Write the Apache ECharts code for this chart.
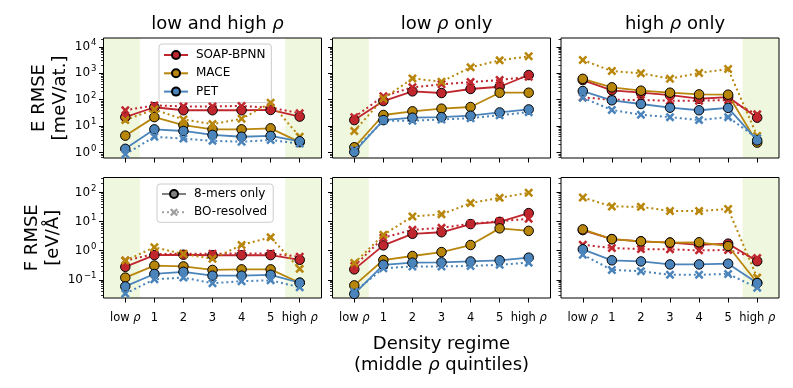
<!DOCTYPE html>
<html><head><meta charset="utf-8">
<script src="https://cdn.jsdelivr.net/npm/echarts@6/dist/echarts.min.js"></script>
<style>html,body{margin:0;padding:0;background:#fff}#c{width:793px;height:388px}</style>
</head><body><div id="c"></div>
<script>
// ---------------- data ----------------
const categories = ['low ρ', '1', '2', '3', '4', '5', 'high ρ'];
const panelTitles = ['low and high ρ', 'low ρ only', 'high ρ only'];
const models = ['SOAP-BPNN', 'MACE', 'PET'];
const styleNames = ['8-mers only', 'BO-resolved'];
const eTickValues = [1, 10, 100, 1000, 10000];
const fTickValues = [0.1, 1, 10, 100];
// shaded (training) regimes, in category units
const shadeLowHigh = [[-0.75, 0.5], [5.5, 6.75]];
const shadeLowOnly = [[-0.75, 0.5]];
const shadeHighOnly = [[5.5, 6.75]];

// E RMSE [meV/at.] — low and high rho
const eBothSoap8 = [22, 52, 40, 40, 40, 41, 23];
const eBothSoapBO = [40, 61, 56, 56, 58, 50, 31];
const eBothMace8 = [4.4, 22, 11, 7.6, 7.6, 8.3, 2.5];
const eBothMaceBO = [17, 43, 18, 12, 19, 77, 4.0];
const eBothPet8 = [1.4, 7.6, 6.6, 4.7, 4.0, 4.3, 2.7];
const eBothPetBO = [0.87, 4.0, 3.4, 2.8, 2.6, 3.0, 2.2];
// E RMSE — low rho only
const eLowSoap8 = [17, 89, 207, 179, 254, 309, 855];
const eLowSoapBO = [22, 135, 294, 382, 465, 553, 738];
const eLowMace8 = [1.6, 26.5, 36.5, 46, 53, 184, 184];
const eLowMaceBO = [6.6, 110, 637, 478, 1670, 3070, 4350];
const eLowPet8 = [1.06, 17, 21, 22, 25, 33, 43];
const eLowPetBO = [1.26, 16, 16, 18, 20, 26, 34];
// E RMSE — high rho only
const eHighSoap8 = [553, 227, 184, 150, 109, 126, 21];
const eHighSoapBO = [123, 100, 97, 92, 92, 97, 28];
const eHighMace8 = [615, 294, 219, 184, 159, 155, 2.4];
const eHighMaceBO = [3150, 1210, 991, 622, 1019, 1440, 4.3];
const eHighPet8 = [213, 95, 69, 50, 40, 49, 2.9];
const eHighPetBO = [119, 41, 27, 22, 17, 22, 3.5];

// F RMSE [eV/Å] — low and high rho
const fBothSoap8 = [0.28, 0.71, 0.73, 0.70, 0.70, 0.71, 0.49];
const fBothSoapBO = [0.46, 0.77, 0.79, 0.79, 0.81, 0.81, 0.62];
const fBothMace8 = [0.12, 0.31, 0.29, 0.22, 0.23, 0.23, 0.080];
const fBothMaceBO = [0.46, 1.31, 0.77, 0.53, 1.57, 2.88, 0.24];
const fBothPet8 = [0.060, 0.16, 0.19, 0.14, 0.14, 0.15, 0.080];
const fBothPetBO = [0.034, 0.105, 0.12, 0.077, 0.090, 0.097, 0.056];
// F RMSE — low rho only
const fLowSoap8 = [0.23, 1.53, 3.8, 4.3, 8.2, 9.8, 19.5];
const fLowSoapBO = [0.30, 2.8, 5.2, 6.1, 8.4, 10.2, 12.5];
const fLowMace8 = [0.065, 0.48, 0.66, 0.90, 1.57, 5.85, 4.8];
const fLowMaceBO = [0.38, 3.5, 15, 17.7, 43, 65, 97];
const fLowPet8 = [0.033, 0.33, 0.39, 0.40, 0.43, 0.47, 0.58];
const fLowPetBO = [0.039, 0.25, 0.29, 0.29, 0.30, 0.33, 0.39];
// F RMSE — high rho only
const fHighSoap8 = [5.1, 2.5, 2.1, 1.9, 1.6, 1.75, 0.44];
const fHighSoapBO = [1.6, 1.24, 1.14, 1.12, 1.03, 1.06, 0.56];
const fHighMace8 = [5.4, 2.5, 2.1, 1.9, 1.95, 1.45, 0.080];
const fHighMaceBO = [67, 33, 32, 23, 23, 27, 0.12];
const fHighPet8 = [1.12, 0.47, 0.43, 0.34, 0.34, 0.36, 0.078];
const fHighPetBO = [0.73, 0.22, 0.20, 0.15, 0.15, 0.16, 0.054];

// ---------------- styling ----------------
const FONT = 'DejaVu Sans';
const modelColors = ['#c0262d', '#b8860b', '#4a84bb'];
const grayColor = '#808080';
const shadeColor = '#eff7df';
const X_PATH = 'path://M2,0 L5,3 L8,0 L10,2 L7,5 L10,8 L8,10 L5,7 L2,10 L0,8 L3,5 L0,2 Z';

const panels = [
  { row: 0, col: 0, shade: shadeLowHigh, sets: [[eBothSoap8, eBothSoapBO], [eBothMace8, eBothMaceBO], [eBothPet8, eBothPetBO]] },
  { row: 0, col: 1, shade: shadeLowOnly, sets: [[eLowSoap8, eLowSoapBO], [eLowMace8, eLowMaceBO], [eLowPet8, eLowPetBO]] },
  { row: 0, col: 2, shade: shadeHighOnly, sets: [[eHighSoap8, eHighSoapBO], [eHighMace8, eHighMaceBO], [eHighPet8, eHighPetBO]] },
  { row: 1, col: 0, shade: shadeLowHigh, sets: [[fBothSoap8, fBothSoapBO], [fBothMace8, fBothMaceBO], [fBothPet8, fBothPetBO]] },
  { row: 1, col: 1, shade: shadeLowOnly, sets: [[fLowSoap8, fLowSoapBO], [fLowMace8, fLowMaceBO], [fLowPet8, fLowPetBO]] },
  { row: 1, col: 2, shade: shadeHighOnly, sets: [[fHighSoap8, fHighSoapBO], [fHighMace8, fHighMaceBO], [fHighPet8, fHighPetBO]] }
];

const colLeft = [103.5, 332.5, 561];
const colWidth = 218;
const rowTop = [38, 177.5];
const rowHeight = [120, 120.5];
const rowRange = [[0.63, 21400], [0.024, 324]];
const rowTicks = [eTickValues, fTickValues];
const rowNames = ['E RMSE\n[meV/at.]', 'F RMSE\n[eV/Å]'];

function minorTicks(range) {
  const out = [];
  for (let k = -3; k <= 5; k++) {
    for (let m = 2; m <= 9; m++) {
      const v = m * Math.pow(10, k);
      if (v > range[0] && v < range[1]) out.push(v);
    }
  }
  return out;
}
const tickIdx = categories.map((c, i) => i);

function supLabel(v) {
  const e = Math.round(Math.log10(v));
  return '{b|10}{s|' + (e < 0 ? '\u2212' + (-e) : e) + '}';
}
function catLabel(v) {
  const s = categories[Math.round(v)] || '';
  return s.replace('ρ', '{i|ρ}');
}

const grid = [], xAxis = [], yAxis = [], series = [];
panels.forEach((p, g) => {
  grid.push({ left: colLeft[p.col], top: rowTop[p.row], width: colWidth, height: rowHeight[p.row],
    show: true, borderColor: '#000', borderWidth: 1, backgroundColor: 'transparent', z: 3 });
  xAxis.push({
    type: 'value', gridIndex: g, min: -0.75, max: 6.75, position: 'bottom',
    axisLine: { show: false, onZero: false }, splitLine: { show: false },
    axisTick: { show: true, customValues: tickIdx, length: 4.5, lineStyle: { color: '#000', width: 1 } },
    axisLabel: {
      show: p.row === 1, customValues: tickIdx, formatter: catLabel, margin: 14,
      color: '#000', fontFamily: FONT, fontSize: 11.5,
      rich: { i: { fontStyle: 'italic', fontFamily: FONT, fontSize: 11.5, color: '#000' } }
    },
    name: (p.row === 1 && p.col === 1) ? 'Density regime\n(middle {i|ρ} quintiles)' : '',
    nameLocation: 'middle', nameGap: 36,
    nameTextStyle: { fontFamily: FONT, fontSize: 18, lineHeight: 21, color: '#000',
      rich: { i: { fontStyle: 'italic', fontFamily: FONT, fontSize: 18, lineHeight: 21, color: '#000' } } }
  });
  yAxis.push({
    type: 'log', logBase: 10, gridIndex: g, min: rowRange[p.row][0], max: rowRange[p.row][1], position: 'left',
    axisLine: { show: false, onZero: false }, splitLine: { show: false },
    axisTick: { show: true, customValues: rowTicks[p.row], length: 4.5, lineStyle: { color: '#000', width: 1 } },
    axisLabel: {
      show: p.col === 0, customValues: rowTicks[p.row], formatter: supLabel, margin: 7,
      color: '#000',
      rich: {
        b: { fontFamily: FONT, fontSize: 12, color: '#000' },
        s: { fontFamily: FONT, fontSize: 8.5, color: '#000', padding: [0, 0, 8, 1] }
      }
    },
    name: p.col === 0 ? rowNames[p.row] : '',
    nameLocation: 'middle', nameRotate: 90, nameGap: 33,
    nameTextStyle: { fontFamily: FONT, fontSize: 18, lineHeight: 21, color: '#000' }
  });
  // shading
  series.push({
    type: 'line', name: 'shade' + g, xAxisIndex: g, yAxisIndex: g, data: [], silent: true, z: 1,
    markArea: { silent: true, itemStyle: { color: shadeColor }, data: p.shade.map(r => [{ xAxis: r[0] }, { xAxis: r[1] }]) }
  });
  p.sets.forEach((pair, m) => {
    const col = modelColors[m];
    series.push({
      type: 'line', name: models[m], xAxisIndex: g, yAxisIndex: g, z: 4,
      data: pair[0].map((v, i) => [i, v]),
      symbol: 'circle', symbolSize: 9.5,
      lineStyle: { color: col, width: 1.8 },
      itemStyle: { color: col, borderColor: '#000', borderWidth: 1 },
      emphasis: { disabled: true }
    });
    series.push({
      type: 'line', name: models[m] + ' BO', xAxisIndex: g, yAxisIndex: g, z: 4,
      data: pair[1].map((v, i) => [i, v]),
      symbol: X_PATH, symbolSize: 9, symbolKeepAspect: true,
      lineStyle: { color: col, width: 2, type: [2, 3] },
      itemStyle: { color: col, borderWidth: 0 },
      emphasis: { disabled: true }
    });
  });
});
// overlay grids carrying only the minor log ticks
panels.forEach((p, k) => {
  const g = panels.length + k;
  grid.push({ left: colLeft[p.col], top: rowTop[p.row], width: colWidth, height: rowHeight[p.row], show: false });
  xAxis.push({ type: 'value', gridIndex: g, min: -0.75, max: 6.75, show: false, axisLine: { onZero: false } });
  yAxis.push({
    type: 'log', logBase: 10, gridIndex: g, min: rowRange[p.row][0], max: rowRange[p.row][1], position: 'left',
    axisLine: { show: false, onZero: false }, splitLine: { show: false },
    axisTick: { show: true, customValues: minorTicks(rowRange[p.row]), length: 2.5, lineStyle: { color: '#000', width: 0.8 } },
    axisLabel: { show: false }
  });
});
// legend-only style series
series.push({
  type: 'line', name: styleNames[0], xAxisIndex: 3, yAxisIndex: 3, data: [],
  symbol: 'circle', symbolSize: 9.5,
  lineStyle: { color: grayColor, width: 1.8 },
  itemStyle: { color: grayColor, borderColor: '#000', borderWidth: 1 }
});
series.push({
  type: 'line', name: styleNames[1], xAxisIndex: 3, yAxisIndex: 3, data: [],
  symbol: X_PATH, symbolSize: 9, symbolKeepAspect: true,
  lineStyle: { color: '#a0a0a0', width: 2, type: [2, 3] },
  itemStyle: { color: '#a0a0a0', borderWidth: 0 }
});

const legendCommon = {
  orient: 'vertical', itemWidth: 24, itemHeight: 10, itemGap: 6.3, selectedMode: false,
  backgroundColor: 'rgba(255,255,255,0.85)', borderColor: '#cccccc', borderWidth: 1, borderRadius: 3,
  textStyle: { fontFamily: FONT, fontSize: 12, color: '#000', padding: [0, 0, 0, 3] }
};

const title = panelTitles.map((t, c) => ({
  text: t.replace('ρ', '{i|ρ}'),
  left: colLeft[c] + colWidth / 2, top: 10, textAlign: 'center',
  textStyle: { fontFamily: FONT, fontSize: 18, fontWeight: 'normal', color: '#000',
    rich: { i: { fontStyle: 'italic', fontFamily: FONT, fontSize: 18, color: '#000' } } }
}));

const chart = echarts.init(document.getElementById('c'), null, { renderer: 'canvas' });
chart.setOption({
  animation: false,
  backgroundColor: '#fff',
  textStyle: { fontFamily: FONT },
  title,
  legend: [
    Object.assign({}, legendCommon, { data: models, left: 159, top: 44, padding: [5, 6, 5, 4] }),
    Object.assign({}, legendCommon, { data: styleNames, left: 157, top: 184, padding: [4, 6, 4, 4] })
  ],
  grid, xAxis, yAxis, series
});
</script></body></html>
